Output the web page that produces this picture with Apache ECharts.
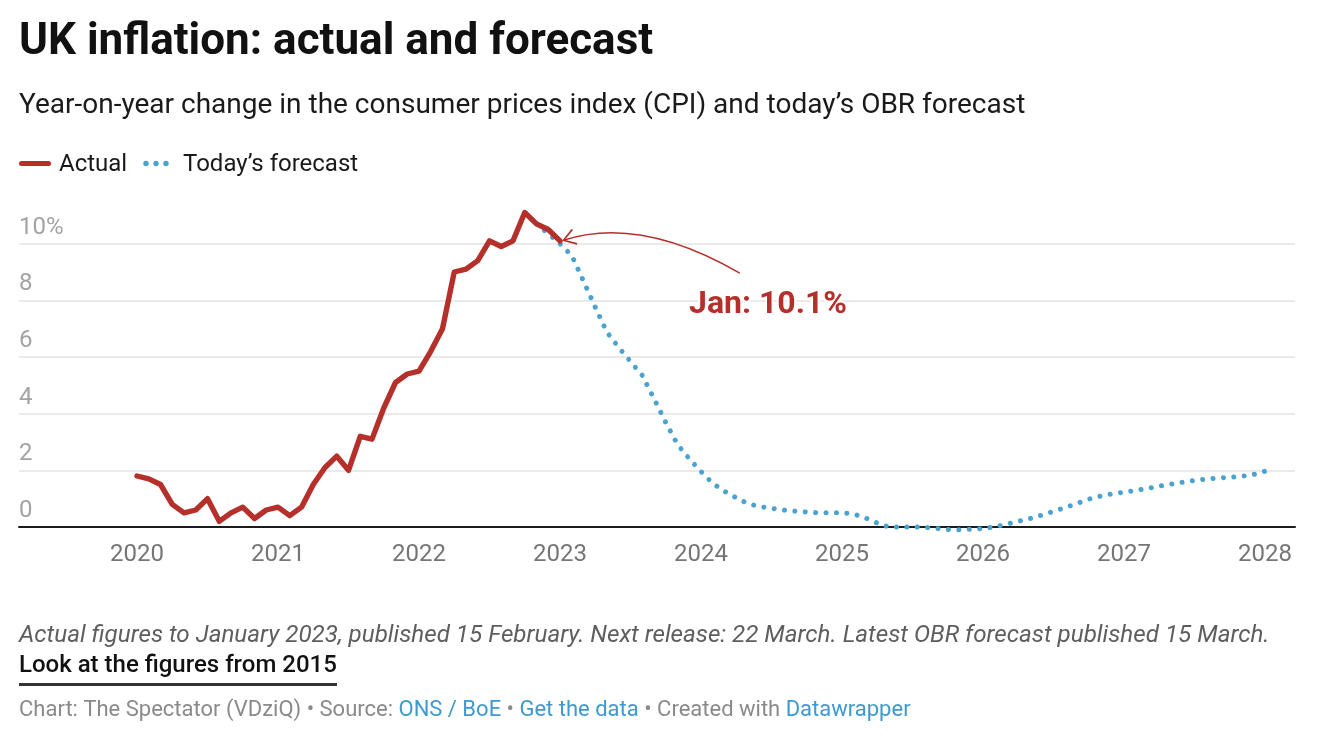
<!DOCTYPE html>
<html><head><meta charset="utf-8">
<script src="https://cdn.jsdelivr.net/npm/echarts@6/dist/echarts.min.js"></script>
<style>html,body{margin:0;padding:0;background:#fff}#c{width:1334px;height:752px}</style>
</head><body><div id="c"></div>
<script>
const titleText = 'UK inflation: actual and forecast';
const subtitleText = 'Year-on-year change in the consumer prices index (CPI) and today\u2019s OBR forecast';
const legendNames = ['Actual', 'Today\u2019s forecast'];
const noteText = 'Actual figures to January 2023, published 15 February. Next release: 22 March. Latest OBR forecast published 15 March.';
const linkText = 'Look at the figures from 2015';
const annotationText = 'Jan: 10.1%';

// monthly data, start = [year, month]
const actualStart = [2020, 1];
const actualValues = [
  1.8, 1.7, 1.5, 0.8, 0.5, 0.6, 1.0, 0.2, 0.5, 0.7, 0.3, 0.6,
  0.7, 0.4, 0.7, 1.5, 2.1, 2.5, 2.0, 3.2, 3.1, 4.2, 5.1, 5.4,
  5.5, 6.2, 7.0, 9.0, 9.1, 9.4, 10.1, 9.9, 10.1, 11.1, 10.7, 10.5,
  10.1
];
const forecastStart = [2022, 11];
const forecastValues = [
  10.7, 10.35,
  10.0, 9.58, 8.68, 7.76, 6.87, 6.34, 5.84, 5.35, 4.53, 3.69, 2.91, 2.41,
  1.96, 1.54, 1.26, 1.03, 0.82, 0.72, 0.66, 0.60, 0.56, 0.53, 0.50, 0.50,
  0.50, 0.46, 0.32, 0.14, 0.0, 0.0, 0.0, -0.01, -0.05, -0.09, -0.10, -0.08,
  -0.05, 0.0, 0.10, 0.20, 0.30, 0.42, 0.55, 0.69, 0.83, 0.98, 1.09, 1.17,
  1.23, 1.29, 1.36, 1.44, 1.51, 1.58, 1.64, 1.69, 1.73, 1.75, 1.79, 1.85,
  1.97
];
const yearTicks = [2020, 2021, 2022, 2023, 2024, 2025, 2026, 2027, 2028];
// annotation arrow in data space: [year, month, value]
const arrowFrom = [2024, 4.3, 8.96];
const arrowCtrl = [2023, 7.8, 11.0];
const arrowTo = [2023, 1.3, 10.12];

const RED = '#b5302a';
const BLUE = '#4aa2d0';

function toPoints(start, values) {
  return values.map((v, i) => [start[0] + (start[1] - 1 + i) / 12, v]);
}
function ym(y, m) { return y + (m - 1) / 12; }

const chart = echarts.init(document.getElementById('c'), null, {renderer: 'canvas'});
const FONT = 'Roboto, "Noto Sans", sans-serif';

chart.setOption({
  animation: false,
  textStyle: {fontFamily: FONT},
  grid: {left: 19, right: 39, top: 187, bottom: 225, containLabel: false},
  xAxis: {
    type: 'value',
    min: 2019.163,
    max: 2028.213,
    axisLine: {onZero: true, lineStyle: {color: '#1c1c1c', width: 2}},
    axisTick: {show: false},
    splitLine: {show: false},
    axisLabel: {
      customValues: yearTicks,
      formatter: v => String(Math.round(v)),
      color: '#757575', fontSize: 24, margin: 16, fontFamily: FONT
    }
  },
  yAxis: {
    type: 'value',
    min: 0, max: 12, interval: 2,
    axisLine: {show: false},
    axisTick: {show: false},
    splitLine: {show: true, showMaxLine: false, lineStyle: {color: '#e3e3e3', width: 1.5}},
    axisLabel: {
      inside: true, margin: 0, showMaxLabel: false,
      verticalAlign: 'bottom', padding: [0, 0, 4, 0],
      color: '#a3a3a3', fontSize: 24, fontFamily: FONT,
      formatter: v => v === 10 ? '10%' : String(v)
    }
  },
  series: [
    {
      name: legendNames[1], type: 'line', data: toPoints(forecastStart, forecastValues),
      showSymbol: false, clip: false, z: 2,
      lineStyle: {color: BLUE, width: 5, type: [0.01, 10.4], cap: 'round'}
    },
    {
      name: legendNames[0], type: 'line', data: toPoints(actualStart, actualValues),
      showSymbol: false, clip: false, z: 3,
      lineStyle: {color: RED, width: 5.4, join: 'round', cap: 'round'}
    }
  ]
});

const px = p => chart.convertToPixel({gridIndex: 0}, [ym(p[0], p[1]), p[2]]);
const P0 = px(arrowFrom), C = px(arrowCtrl), P2 = px(arrowTo);
const dx = C[0] - P2[0], dy = C[1] - P2[1];
const ang = Math.atan2(dy, dx);
const armLen = 14, spread = 33 * Math.PI / 180;
const armA = [P2[0] + armLen * Math.cos(ang - spread), P2[1] + armLen * Math.sin(ang - spread)];
const armB = [P2[0] + armLen * Math.cos(ang + spread), P2[1] + armLen * Math.sin(ang + spread)];

chart.setOption({
  graphic: [
    {type: 'text', left: 19, top: 21, style: {text: titleText, font: 'bold 44px ' + FONT, fill: '#111'}},
    {type: 'text', left: 19, top: 92, style: {text: subtitleText, font: '28px ' + FONT, fill: '#1a1a1a'}},
    {type: 'rect', shape: {x: 19, y: 161, width: 32, height: 5, r: 2.5}, style: {fill: RED}},
    {type: 'text', left: 59, top: 153, style: {text: legendNames[0], font: '24px ' + FONT, fill: '#1a1a1a'}},
    {type: 'circle', shape: {cx: 146, cy: 163.5, r: 2.7}, style: {fill: BLUE}},
    {type: 'circle', shape: {cx: 156, cy: 163.5, r: 2.7}, style: {fill: BLUE}},
    {type: 'circle', shape: {cx: 166, cy: 163.5, r: 2.7}, style: {fill: BLUE}},
    {type: 'text', left: 183, top: 153, style: {text: legendNames[1], font: '24px ' + FONT, fill: '#1a1a1a'}},
    {type: 'bezierCurve', z: 10, shape: {x1: P0[0], y1: P0[1], cpx1: C[0], cpy1: C[1], x2: P2[0], y2: P2[1]},
      style: {stroke: RED, lineWidth: 1.6, fill: null}},
    {type: 'polyline', z: 10, shape: {points: [armA, P2, armB]},
      style: {stroke: RED, lineWidth: 1.6, fill: null}},
    {type: 'text', left: 687, top: 287, z: 10, style: {text: annotationText, font: 'bold 32px ' + FONT, fill: RED, stroke: '#fff', lineWidth: 4}},
    {type: 'text', left: 19, top: 624, style: {text: noteText, font: 'italic 24.2px ' + FONT, fill: '#5e5e5e'}},
    {type: 'text', left: 19, top: 654, style: {text: linkText, font: '500 24px ' + FONT, fill: '#111'}},
    {type: 'rect', shape: {x: 19, y: 683, width: 318, height: 3}, style: {fill: '#333'}},
    {type: 'text', left: 19, top: 699, style: {
      text: '{g|Chart: The Spectator (VDziQ) \u2022 Source: }{b|ONS / BoE}{g| \u2022 }{b|Get the data}{g| \u2022 Created with }{b|Datawrapper}',
      rich: {
        g: {fontSize: 22, fontFamily: FONT, fill: '#8a8a8a'},
        b: {fontSize: 22, fontFamily: FONT, fill: '#3d9ad1'}
      }
    }}
  ]
});
</script>
</body></html>
